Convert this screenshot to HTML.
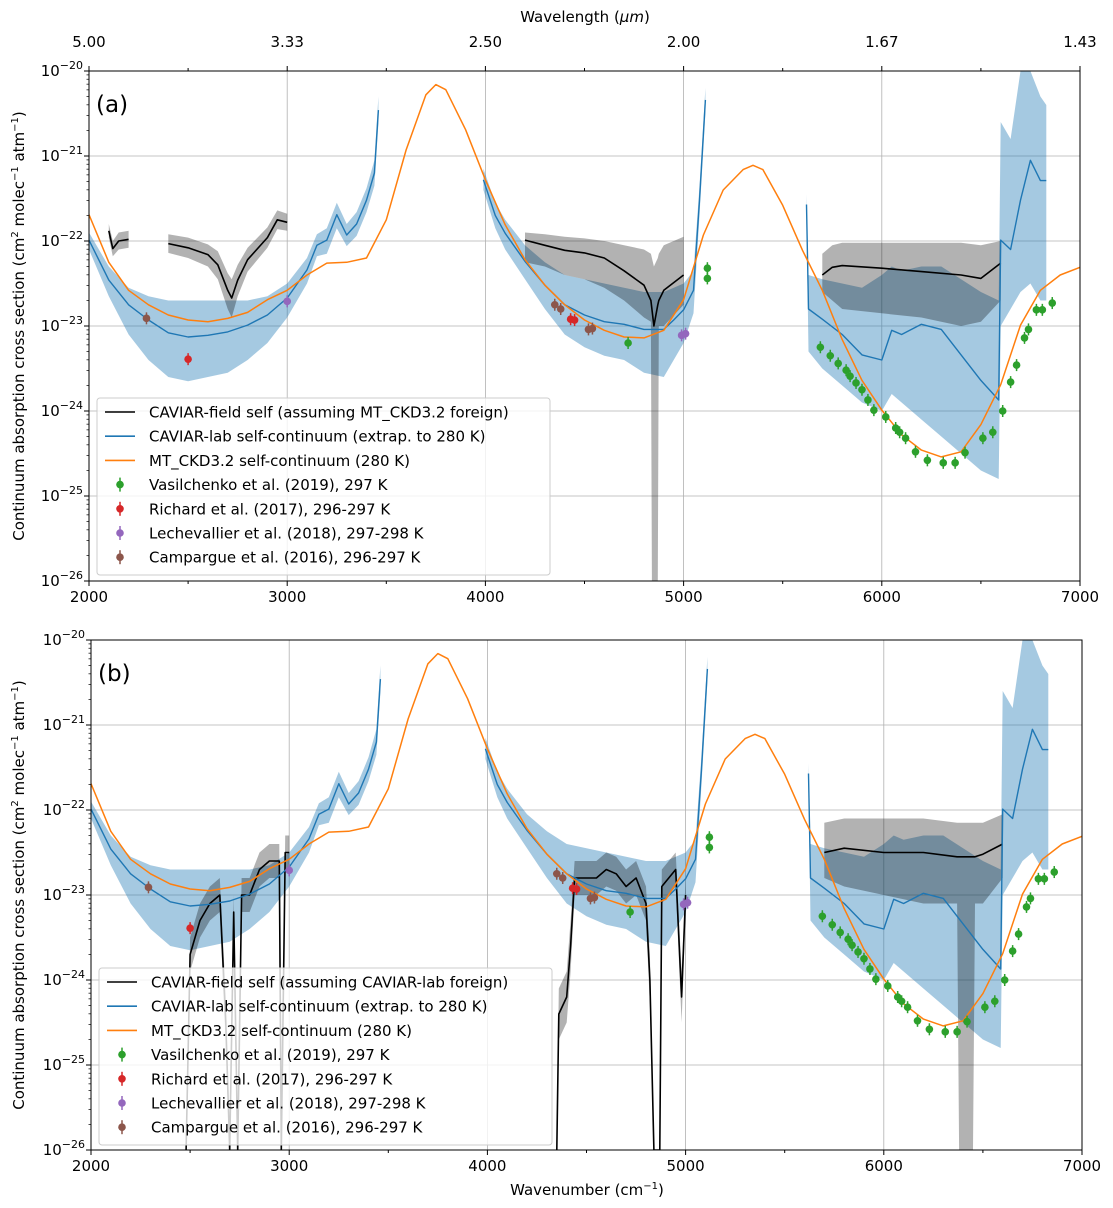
<!DOCTYPE html>
<html><head><meta charset="utf-8">
<style>
html,body{margin:0;padding:0;background:#fff;}
svg{display:block;font-family:"DejaVu Sans","Liberation Sans",sans-serif;}
</style></head>
<body>
<svg id="chart" width="1113" height="1208" viewBox="0 0 1113 1208" xmlns="http://www.w3.org/2000/svg"></svg>
<script>
// ---- data (log10 of cross section, cm2 molec-1 atm-1) ----
const mtWn = [2000,2100,2200,2300,2400,2500,2600,2700,2800,2900,3000,3100,3200,3300,3400,3500,3600,3700,3750,3800,3900,4000,4100,4200,4300,4400,4500,4600,4700,4800,4900,5000,5100,5200,5300,5350,5400,5500,5600,5700,5800,5900,6000,6100,6200,6300,6400,6500,6600,6700,6800,6900,7000];
const mtLog = [-21.69,-22.25,-22.58,-22.75,-22.87,-22.93,-22.95,-22.91,-22.84,-22.69,-22.58,-22.40,-22.26,-22.25,-22.20,-21.75,-20.93,-20.28,-20.16,-20.22,-20.69,-21.28,-21.81,-22.22,-22.52,-22.75,-22.93,-23.05,-23.13,-23.14,-23.05,-22.69,-21.93,-21.40,-21.16,-21.11,-21.16,-21.58,-22.11,-22.58,-23.16,-23.64,-23.99,-24.28,-24.46,-24.54,-24.48,-24.16,-23.69,-22.99,-22.58,-22.40,-22.31];

const labWn  = [2000,2100,2200,2300,2400,2500,2600,2700,2800,2900,3000,3100,3150,3200,3250,3300,3350,3400,3440,3460,null,3990,4050,4100,4200,4300,4400,4500,4600,4700,4800,4900,4950,5000,5050,5080,5110,null,5620,5630,5700,5800,5900,6000,6050,6100,6200,6300,6400,6500,6590,6600,6650,6700,6750,6800,6830];
const labMid = [-21.99,-22.46,-22.75,-22.93,-23.08,-23.13,-23.11,-23.07,-22.99,-22.87,-22.67,-22.34,-22.05,-21.99,-21.69,-21.93,-21.80,-21.52,-21.2,-20.46,null,-21.28,-21.70,-21.91,-22.24,-22.52,-22.75,-22.87,-22.95,-22.98,-23.04,-23.04,-22.93,-22.81,-22.58,-21.52,-20.34,null,-21.57,-22.80,-22.92,-23.10,-23.34,-23.40,-23.05,-23.10,-22.98,-23.04,-23.34,-23.64,-23.87,-21.99,-22.10,-21.52,-21.05,-21.29,-21.29];
const labHi  = [-21.90,-22.30,-22.55,-22.65,-22.70,-22.70,-22.70,-22.70,-22.70,-22.65,-22.50,-22.20,-21.92,-21.85,-21.55,-21.80,-21.66,-21.38,-21.05,-20.30,null,-21.15,-21.55,-21.75,-22.05,-22.25,-22.40,-22.45,-22.50,-22.55,-22.60,-22.60,-22.55,-22.50,-22.35,-21.35,-20.20,null,-21.45,-22.40,-22.45,-22.50,-22.55,-22.40,-22.30,-22.35,-22.30,-22.30,-22.45,-22.60,-22.70,-20.60,-20.80,-20.00,-20.00,-20.30,-20.40];
const labLo  = [-22.10,-22.65,-23.10,-23.40,-23.60,-23.65,-23.60,-23.55,-23.40,-23.20,-22.90,-22.50,-22.18,-22.15,-21.85,-22.06,-21.94,-21.66,-21.35,-20.62,null,-21.40,-21.85,-22.10,-22.45,-22.80,-23.10,-23.25,-23.35,-23.40,-23.55,-23.60,-23.40,-23.20,-22.85,-21.70,-20.50,null,-21.70,-23.30,-23.50,-23.70,-23.90,-24.00,-23.80,-23.90,-24.10,-24.30,-24.50,-24.70,-24.80,-23.00,-22.80,-22.60,-22.50,-22.70,-22.70];

const fieldAWn  = [2100,2120,2150,2200,null,2400,2500,2600,2650,2700,2720,2750,2800,2900,2950,3000,null,4200,4300,4400,4500,4600,4700,4800,4835,4840,4850,4870,4875,4900,5000,null,5700,5750,5800,6000,6200,6400,6500,6600];
const fieldAMid = [-21.88,-22.09,-22.00,-21.98,null,-22.03,-22.08,-22.16,-22.28,-22.58,-22.67,-22.46,-22.22,-21.96,-21.75,-21.78,null,-21.99,-22.05,-22.11,-22.14,-22.20,-22.35,-22.52,-22.70,-22.80,-23.00,-22.75,-22.70,-22.58,-22.40,null,-22.40,-22.31,-22.29,-22.32,-22.36,-22.40,-22.44,-22.26];
const fieldAHi  = [-21.80,-22.00,-21.90,-21.88,null,-21.92,-21.96,-22.04,-22.12,-22.38,-22.45,-22.28,-22.08,-21.84,-21.64,-21.68,null,-21.90,-21.92,-21.95,-21.97,-22.00,-22.05,-22.10,-22.15,-22.20,-22.30,-22.20,-22.15,-22.05,-21.95,null,-22.15,-22.05,-22.02,-22.02,-22.02,-22.02,-22.05,-22.00];
const fieldALo  = [-21.96,-22.18,-22.10,-22.08,null,-22.14,-22.20,-22.30,-22.45,-22.80,-22.90,-22.65,-22.36,-22.08,-21.86,-21.88,null,-22.25,-22.30,-22.40,-22.45,-22.55,-22.70,-22.90,-22.95,-26.00,-26.00,-26.00,-23.00,-23.00,-22.75,null,-22.60,-22.70,-22.80,-22.85,-22.90,-23.00,-22.95,-22.70];

const fieldBWn  = [2480,2500,2550,2600,2650,2680,2700,2720,2740,2760,2800,2850,2900,2950,2960,2980,3000,null,4350,4360,4400,4420,4440,4500,4550,4600,4650,4700,4750,4800,4820,4840,4870,4880,4950,4980,5000,null,5700,5800,6000,6200,6370,6380,6450,6460,6500,6600];
const fieldBMid = [-26.0,-23.7,-23.3,-23.1,-23.0,-24.5,-26.0,-23.2,-26.0,-23.0,-23.0,-22.7,-22.6,-22.6,-26.0,-22.5,-22.5,null,-26.0,-24.4,-24.2,-23.6,-22.8,-22.8,-22.8,-22.7,-22.75,-22.9,-22.8,-23.1,-24.0,-26.0,-26.0,-22.9,-22.7,-24.2,-23.0,null,-22.5,-22.45,-22.5,-22.5,-22.55,-22.55,-22.55,-22.55,-22.52,-22.4];
const fieldBHi  = [-26.0,-23.5,-23.1,-22.9,-22.8,-24.2,-26.0,-23.0,-26.0,-22.8,-22.8,-22.5,-22.4,-22.4,-26.0,-22.3,-22.3,null,-26.0,-24.1,-23.9,-23.3,-22.6,-22.6,-22.6,-22.5,-22.55,-22.7,-22.6,-22.9,-23.7,-26.0,-26.0,-22.7,-22.5,-23.9,-22.8,null,-22.15,-22.1,-22.1,-22.1,-22.15,-22.15,-22.15,-22.15,-22.15,-22.05];
const fieldBLo  = [-26.0,-23.9,-23.5,-23.3,-23.2,-24.8,-26.0,-23.4,-26.0,-23.2,-23.2,-22.9,-22.8,-22.8,-26.0,-22.7,-22.7,null,-26.0,-24.7,-24.5,-23.9,-23.0,-23.0,-23.0,-22.9,-22.95,-23.1,-23.0,-23.3,-24.3,-26.0,-26.0,-23.1,-22.9,-24.5,-23.2,null,-22.8,-22.9,-23.0,-23.1,-23.1,-26.0,-26.0,-23.1,-23.1,-22.8];

const vasWn  = [4720,5120,5120,5690,5740,5780,5820,5840,5870,5900,5930,5960,6020,6070,6090,6120,6170,6230,6310,6370,6420,6510,6560,6610,6650,6680,6720,6740,6780,6810,6860];
const vasLog = [-23.2,-22.32,-22.44,-23.25,-23.35,-23.44,-23.52,-23.59,-23.67,-23.75,-23.87,-23.99,-24.07,-24.2,-24.25,-24.32,-24.48,-24.58,-24.61,-24.61,-24.49,-24.32,-24.25,-24.0,-23.66,-23.46,-23.14,-23.04,-22.81,-22.81,-22.73];
const ricWn  = [2500,4430,4450];
const ricLog = [-23.39,-22.92,-22.93];
const lecWn  = [3000,4990,5010];
const lecLog = [-22.71,-23.11,-23.09];
const camWn  = [2290,4350,4380,4520,4540];
const camLog = [-22.91,-22.75,-22.8,-23.04,-23.03];

const xTicks = [2000,3000,4000,5000,6000,7000];
const yTicks = [-20,-21,-22,-23,-24,-25,-26];
const topTickLabels = ["5.00","3.33","2.50","2.00","1.67","1.43"];
const legendLabelsA = ["CAVIAR-field self (assuming MT_CKD3.2 foreign)","CAVIAR-lab self-continuum (extrap. to 280 K)","MT_CKD3.2 self-continuum (280 K)","Vasilchenko et al. (2019), 297 K","Richard et al. (2017), 296-297 K","Lechevallier et al. (2018), 297-298 K","Campargue et al. (2016), 296-297 K"];
const legendLabelsB = ["CAVIAR-field self (assuming CAVIAR-lab foreign)","CAVIAR-lab self-continuum (extrap. to 280 K)","MT_CKD3.2 self-continuum (280 K)","Vasilchenko et al. (2019), 297 K","Richard et al. (2017), 296-297 K","Lechevallier et al. (2018), 297-298 K","Campargue et al. (2016), 296-297 K"];

const NS = "http://www.w3.org/2000/svg";
const svg = document.getElementById("chart");
function mk(tag, attrs, parent){ const e=document.createElementNS(NS,tag); for(const k in attrs) e.setAttribute(k,attrs[k]); (parent||svg).appendChild(e); return e; }

function drawPanel(P, fWn, fMid, fHi, fLo, legendLabels, letter, showTop, legY){
  const g = mk("g",{});
  
  
  const xS = w => P.x0 + (w-2000)/5000*(P.x1-P.x0);
  const yS = l => P.y0 + (-20-l)*(P.y1-P.y0)/6;
  const clip = mk("clipPath",{id:"clip"+letter},g);
  mk("rect",{x:P.x0,y:P.y0,width:P.x1-P.x0,height:P.y1-P.y0},clip);
  xTicks.forEach(t=>{ const l=mk("line",{x1:xS(t),x2:xS(t),y1:P.y0,y2:P.y1,stroke:"#b0b0b0","stroke-width":0.8},g);
      });
  yTicks.forEach(t=>{ const l=mk("line",{x1:P.x0,x2:P.x1,y1:yS(t),y2:yS(t),stroke:"#b0b0b0","stroke-width":0.8},g);
      });
  const data = mk("g",{"clip-path":"url(#clip"+letter+")"},g);
  function segs(wn, arr){ const out=[]; let cur=[]; wn.forEach((w,i)=>{ if(w===null){ if(cur.length) out.push(cur); cur=[]; } else cur.push([w,arr[i]]); }); if(cur.length) out.push(cur); return out; }
  function band(wn, hi, lo, fill, name){
    const sh=segs(wn,hi), sl=segs(wn,lo);
    sh.forEach((s,k)=>{ let d="M"+s.map(p=>xS(p[0]).toFixed(1)+","+yS(p[1]).toFixed(1)).join("L");
      d+="L"+sl[k].slice().reverse().map(p=>xS(p[0]).toFixed(1)+","+yS(p[1]).toFixed(1)).join("L")+"Z";
      const e=mk("path",{d:d,fill:fill,stroke:"none"},data);
      
       });
  }
  function line(wn, arr, color, w, name){
    segs(wn,arr).forEach(s=>{ const d="M"+s.map(p=>xS(p[0]).toFixed(1)+","+yS(p[1]).toFixed(1)).join("L");
      const e=mk("path",{d:d,fill:"none",stroke:color,"stroke-width":w,"stroke-linejoin":"round"},data);
      
       });
  }
  band(labWn, labHi, labLo, "rgba(31,119,180,0.4)", "caviar-lab-uncertainty-band");
  band(fWn, fHi, fLo, "rgba(0,0,0,0.3)", "caviar-field-uncertainty-band");
  line(fWn, fMid, "#000", 1.6, "caviar-field-line");
  line(labWn, labMid, "#1f77b4", 1.4, "caviar-lab-line");
  line(mtWn, mtLog, "#ff7f0e", 1.5, "mt-ckd-line");
  function pts(wn, arr, color, name){
    wn.forEach((w,i)=>{ const cx=xS(w), cy=yS(arr[i]);
      const eb=mk("line",{x1:cx,x2:cx,y1:cy-6,y2:cy+6,stroke:color,"stroke-width":1.5},data);
      
      
      const c=mk("circle",{cx:cx,cy:cy,r:3.8,fill:color},data);
      
       });
  }
  pts(vasWn, vasLog, "#2ca02c", "vasilchenko");
  pts(ricWn, ricLog, "#d62728", "richard");
  pts(lecWn, lecLog, "#9467bd", "lechevallier");
  pts(camWn, camLog, "#8c564b", "campargue");
  const fr=mk("rect",{x:P.x0,y:P.y0,width:P.x1-P.x0,height:P.y1-P.y0,fill:"none",stroke:"#000","stroke-width":1},g);
   
  for(let t=2000;t<=7000;t+=500){ const major=t%1000===0; mk("line",{x1:xS(t),x2:xS(t),y1:P.y1,y2:P.y1+(major?5:3),stroke:"#000"},g);
    if(showTop) mk("line",{x1:xS(t),x2:xS(t),y1:P.y0,y2:P.y0-(major?5:3),stroke:"#000"},g); }
  xTicks.forEach(t=>{ const e=mk("text",{x:xS(t),y:P.y1+21,"font-size":15,"text-anchor":"middle",fill:"#000"},g); e.textContent=t;
      });
  if(showTop) topTickLabels.forEach((s,i)=>{ const e=mk("text",{x:xS(xTicks[i]),y:P.y0-24,"font-size":15,"text-anchor":"middle",fill:"#000"},g); e.textContent=s;
      });
  yTicks.forEach(t=>{ mk("line",{x1:P.x0-5,x2:P.x0,y1:yS(t),y2:yS(t),stroke:"#000"},g);
    for(let m=2;m<10;m++){ const l=t-1+Math.log10(m); if(t>-26) mk("line",{x1:P.x0-2.5,x2:P.x0,y1:yS(l),y2:yS(l),stroke:"#000","stroke-width":0.7},g); }
    const e=mk("text",{x:P.x0-6,y:yS(t)+5,"font-size":15,"text-anchor":"end",fill:"#000"},g);
     
    const a=mk("tspan",{},e); a.textContent="10";
    const b=mk("tspan",{dy:-7,"font-size":11},e); b.textContent="\u2212"+(-t); });
  const yc=(P.y0+P.y1)/2;
  const yt=mk("text",{x:24,y:yc,"font-size":15,"text-anchor":"middle",transform:"rotate(-90 24 "+yc+")",fill:"#000"},g);
   
  [["Continuum absorption cross section (cm",0,15],["2",-6,10],[" molec",6,15],["\u22121",-6,10],[" atm",6,15],["\u22121",-6,10],[")",6,15]].forEach(p=>{ const s=mk("tspan",{dy:p[1],"font-size":p[2]},yt); s.textContent=p[0]; });
  const pl=mk("text",{x:P.x0+7,y:P.y0+41,"font-size":23,fill:"#000"},g); pl.textContent="("+letter+")";
   
  const lg=mk("g",{},g);
   
  const lx=P.x0+8;
  mk("rect",{x:lx,y:legY,width:453,height:177,rx:3,fill:"rgba(255,255,255,0.8)",stroke:"#ccc"},lg);
  const colors=["#000","#1f77b4","#ff7f0e","#2ca02c","#d62728","#9467bd","#8c564b"];
  legendLabels.forEach((s,i)=>{ const cy=legY+14+i*24.2;
    const en=mk("g",{},lg);  
    if(i<3) mk("line",{x1:lx+8,x2:lx+38,y1:cy,y2:cy,stroke:colors[i],"stroke-width":1.6},en);
    else { mk("line",{x1:lx+23,x2:lx+23,y1:cy-7,y2:cy+7,stroke:colors[i],"stroke-width":1.5},en); mk("circle",{cx:lx+23,cy:cy,r:3.8,fill:colors[i]},en); }
    const t=mk("text",{x:lx+52,y:cy+5.5,"font-size":15,fill:"#000"},en); t.textContent=s; });
}

const PA={x0:89,x1:1080,y0:71,y1:581};
const PB={x0:91,x1:1082,y0:640,y1:1150};
drawPanel(PA, fieldAWn, fieldAMid, fieldAHi, fieldALo, legendLabelsA, "a", true, 398);
drawPanel(PB, fieldBWn, fieldBMid, fieldBHi, fieldBLo, legendLabelsB, "b", false, 968);

const tt=mk("text",{x:585,y:22,"font-size":15,"text-anchor":"middle",fill:"#000"});
 
tt.textContent="Wavelength (";
const mu=mk("tspan",{"font-style":"italic"},tt); mu.textContent="\u03bcm";
const cl=mk("tspan",{},tt); cl.textContent=")";
const xt=mk("text",{x:587,y:1195,"font-size":15,"text-anchor":"middle",fill:"#000"});
 
xt.textContent="Wavenumber (cm";
const s1=mk("tspan",{dy:-6,"font-size":10},xt); s1.textContent="\u22121";
const s2=mk("tspan",{dy:6},xt); s2.textContent=")";
</script>
</body></html>
